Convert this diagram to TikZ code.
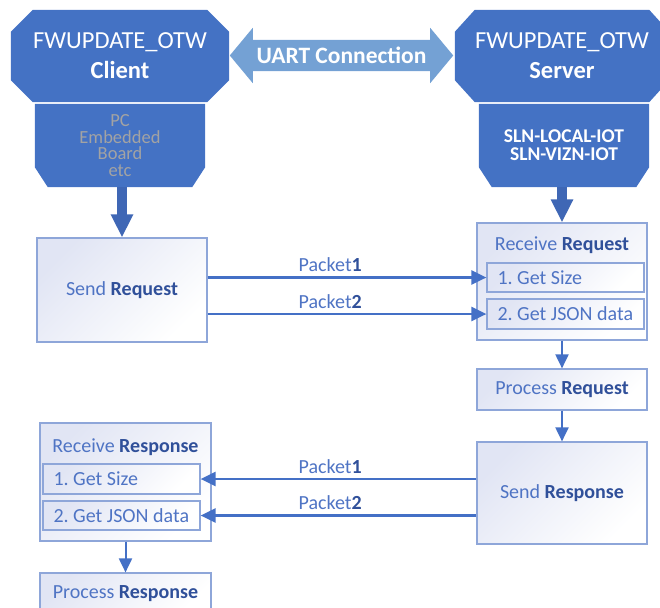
\documentclass[tikz,border=0pt]{standalone}
\usepackage{fontspec}
\setmainfont{Carlito}
\usetikzlibrary{arrows.meta,backgrounds,calc}

\definecolor{hdrblue}{HTML}{4472C4}
\definecolor{linkblue}{HTML}{74A1D4}
\definecolor{shaftblue}{HTML}{3F67B5}
\definecolor{edgeblue}{HTML}{8EA6D9}
\definecolor{txtblue}{HTML}{4F74C4}
\definecolor{boldblue}{HTML}{30509A}
\definecolor{boxtint}{HTML}{E1E5F4}
\definecolor{greytxt}{HTML}{A3A3A3}
\definecolor{wireblue}{HTML}{4470C6}

\newcommand\kw[1]{{\bfseries\color{boldblue}#1}}
\newcommand\stepline[1]{\makebox[136pt][l]{#1}}
\frenchspacing

\tikzset{
  hdrtext/.style={text=white, align=center, inner sep=0pt,
    font=\fontsize{24.5}{30}\selectfont},
  lowtext/.style={align=center, inner sep=0pt},
  flowbox/.style={draw=edgeblue, line width=1.2pt, top color=boxtint,
    bottom color=white, shading angle=45, text=txtblue, inner sep=0pt,
    font=\fontsize{20}{24}\selectfont},
  subbox/.style={flowbox, minimum width=157pt},
  titletext/.style={text=txtblue, inner sep=0pt,
    font=\fontsize{20}{24}\selectfont},
  pktlbl/.style={text=txtblue, inner sep=0pt, anchor=base,
    font=\fontsize{20}{24}\selectfont},
  packarr/.style={draw=wireblue, line width=2.6pt,
    -{Triangle[length=15pt,width=14pt]}},
  thinarr/.style={draw=wireblue, line width=2pt,
    -{Triangle[length=14pt,width=13pt]}},
  bigarr/.style={draw=shaftblue, line width=10pt,
    -{Triangle[length=23pt,width=21pt]}}
}

\begin{document}
\begin{tikzpicture}[x=1pt,y=-1pt]
\clip (0,0) rectangle (660,607);

% ---------- client and server headers ----------
\node[hdrtext, minimum width=218pt, minimum height=92pt] (cli) at (120,56)
  {FWUPDATE\_OTW\\\textbf{Client}};
\node[hdrtext, minimum width=214pt, minimum height=92pt] (srv) at (562,56)
  {FWUPDATE\_OTW\\\textbf{Server}};

\node[lowtext, text=greytxt, font=\fontsize{18.5}{16.8}\selectfont,
  minimum width=170pt, minimum height=83pt] (clilow) at (120,145.5)
  {PC\\Embedded\\Board\\etc};
\node[lowtext, text=white, font=\bfseries\fontsize{19.5}{18}\selectfont,
  minimum width=170pt, minimum height=83pt] (srvlow) at (564,145.5)
  {SLN-LOCAL-IOT\\SLN-VIZN-IOT};

\node[inner sep=0pt, text=white, font=\bfseries\fontsize{23.5}{26}\selectfont,
  minimum width=223pt, minimum height=31pt] (uart) at (341.5,55.5)
  {UART Connection};

\begin{scope}[on background layer]
  % chamfered header plates
  \fill[hdrblue] ([xshift=22pt]cli.north west) -- ([xshift=-22pt]cli.north east)
    -- ([yshift=-22pt]cli.north east) -- ([yshift=22pt]cli.south east)
    -- ([xshift=-22pt]cli.south east) -- ([xshift=22pt]cli.south west)
    -- ([yshift=22pt]cli.south west) -- ([yshift=-22pt]cli.north west) -- cycle;
  \fill[hdrblue] ([xshift=20pt]srv.north west) -- ([xshift=-20pt]srv.north east)
    -- ([yshift=-22pt]srv.north east) -- ([yshift=22pt]srv.south east)
    -- ([xshift=-20pt]srv.south east) -- ([xshift=20pt]srv.south west)
    -- ([yshift=22pt]srv.south west) -- ([yshift=-22pt]srv.north west) -- cycle;
  % platform plates, cut at the lower corners
  \foreach \p in {clilow,srvlow}{
    \fill[hdrblue] (\p.north west) -- (\p.north east)
      -- ([yshift=20pt]\p.south east) -- ([xshift=-13pt]\p.south east)
      -- ([xshift=13pt]\p.south west) -- ([yshift=20pt]\p.south west) -- cycle;
  }
  % two-headed link arrow
  \fill[linkblue] (uart.west) -- ([xshift=23pt,yshift=12pt]uart.north west)
    -- ([xshift=23pt]uart.north west) -- ([xshift=-23pt]uart.north east)
    -- ([xshift=-23pt,yshift=12pt]uart.north east) -- (uart.east)
    -- ([xshift=-23pt,yshift=-12pt]uart.south east) -- ([xshift=-23pt]uart.south east)
    -- ([xshift=23pt]uart.south west) -- ([xshift=23pt,yshift=-12pt]uart.south west)
    -- cycle;
\end{scope}

% ---------- request side ----------
\node[flowbox, minimum width=170pt, minimum height=104pt] (sendreq) at (122,290)
  {Send \kw{Request}};
\node[flowbox, minimum width=170pt, minimum height=117pt] (recvreq) at (562,281.5) {};
\node[titletext] (rrtitle) at (562,245) {Receive \kw{Request}};
\node[subbox, minimum height=29pt] (rr1) at (565.5,277.5) {\stepline{1. Get Size}};
\node[subbox, minimum height=30pt] (rr2) at (565.5,314) {\stepline{2. Get JSON data}};
\node[flowbox, minimum width=170pt, minimum height=41pt] (procreq) at (562,389.5)
  {Process \kw{Request}};

% ---------- response side ----------
\node[flowbox, minimum width=170pt, minimum height=102pt] (sendresp) at (562,493)
  {Send \kw{Response}};
\node[flowbox, minimum width=171pt, minimum height=118pt] (recvresp) at (125.5,482) {};
\node[titletext] (rstitle) at (125.5,447) {Receive \kw{Response}};
\node[subbox, minimum height=30pt] (rs1) at (121.5,479) {\stepline{1. Get Size}};
\node[subbox, minimum height=29pt] (rs2) at (121.5,515.5) {\stepline{2. Get JSON data}};
\node[flowbox, minimum width=171pt, minimum height=41pt] (procresp) at (125.5,593.5)
  {Process \kw{Response}};

% ---------- connectors ----------
\draw[bigarr] (sendreq.north |- clilow.south) -- (sendreq.north);
\draw[bigarr] (recvreq.north |- srvlow.south) -- (recvreq.north);

\draw[packarr] (sendreq.east |- rr1) --
  node[pktlbl, pos=0.44, yshift=6pt] {Packet\kw{1}} (rr1.west);
\draw[packarr] (sendreq.east |- rr2) --
  node[pktlbl, pos=0.44, yshift=6pt] {Packet\kw{2}} (rr2.west);

\draw[thinarr] (recvreq.south) -- (procreq.north);
\draw[thinarr] (procreq.south) -- (sendresp.north);

\draw[packarr] (sendresp.west |- rs1) --
  node[pktlbl, pos=0.53, yshift=6pt] {Packet\kw{1}} (rs1.east);
\draw[packarr] (sendresp.west |- rs2) --
  node[pktlbl, pos=0.53, yshift=6pt] {Packet\kw{2}} (rs2.east);

\draw[thinarr] (recvresp.south) -- (procresp.north);
\end{tikzpicture}
\end{document}
